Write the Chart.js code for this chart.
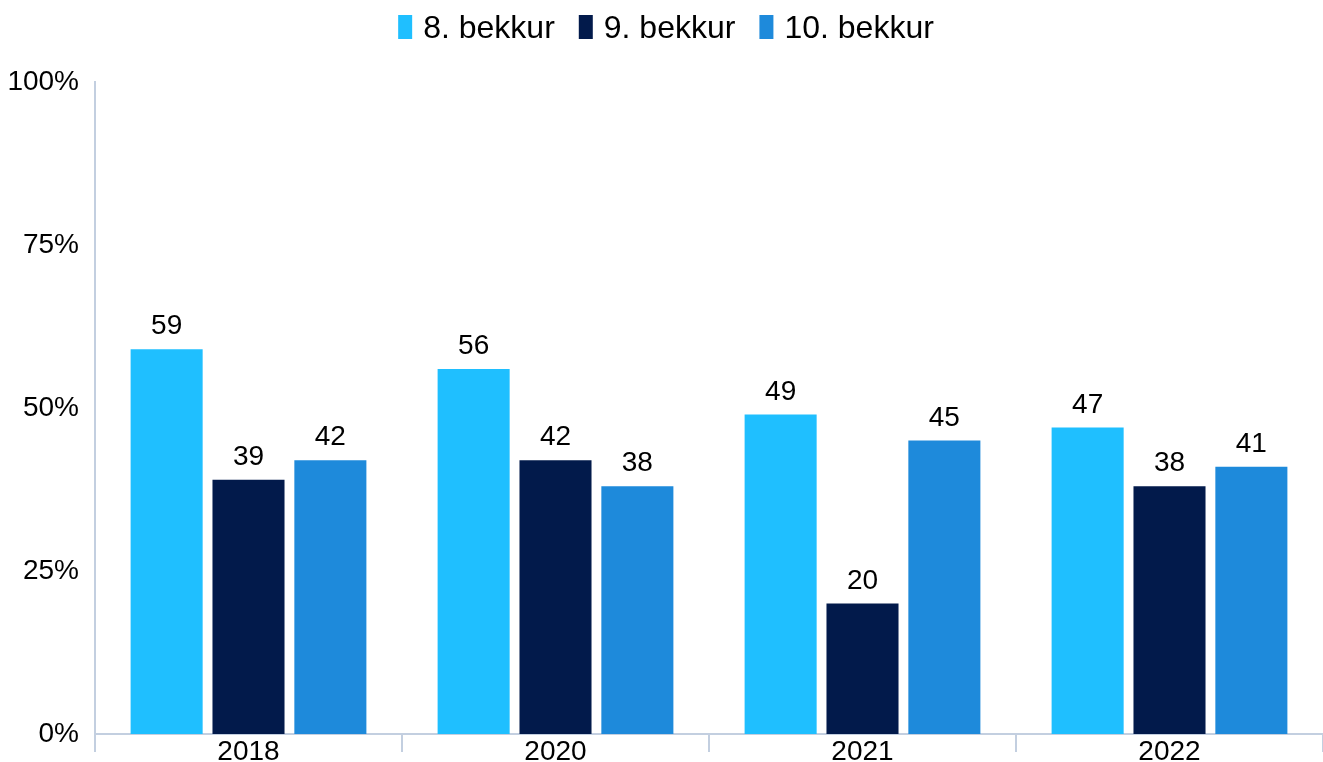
<!DOCTYPE html>
<html>
<head>
<meta charset="utf-8">
<script src="https://cdn.jsdelivr.net/npm/chart.js@4/dist/chart.umd.min.js"></script>
<style>
  body { margin: 0; background: #fff; }
  canvas { display: block; }
</style>
</head>
<body>
<canvas id="chart" width="1323" height="762"></canvas>
<script>
const years = ["2018", "2020", "2021", "2022"]
const grade8 = [59, 56, 49, 47]
const grade9 = [39, 42, 20, 38]
const grade10 = [42, 38, 45, 41]
const seriesNames = ["8. bekkur", "9. bekkur", "10. bekkur"]
const yTicks = [0, 25, 50, 75, 100]

const fontFamily = "'Liberation Sans', Arial, sans-serif"
const axisColor = "#C3CFE0"

// values above the bars
const barLabels = {
    id: "barLabels",
    afterDatasetsDraw(chart) {
        const ctx = chart.ctx
        ctx.save()
        ctx.font = "28px " + fontFamily
        ctx.fillStyle = "#000"
        ctx.textAlign = "center"
        ctx.textBaseline = "alphabetic"
        chart.data.datasets.forEach((ds, i) => {
            chart.getDatasetMeta(i).data.forEach((bar, j) => {
                ctx.fillText(ds.data[j], bar.x, bar.y - 15)
            })
        })
        ctx.restore()
    }
}

// legend with narrow boxes, drawn by hand for tighter spacing
const topLegend = {
    id: "topLegend",
    afterDraw(chart) {
        const ctx = chart.ctx
        ctx.save()
        ctx.font = "32px " + fontFamily
        const items = chart.data.datasets.map(ds => ({
            text: ds.label,
            color: ds.backgroundColor,
            w: 25 + ctx.measureText(ds.label).width,
        }))
        const gap = 24
        const total = items.reduce((s, it) => s + it.w, 0) + gap * (items.length - 1)
        let x = 666 - total / 2
        items.forEach(it => {
            ctx.fillStyle = it.color
            ctx.fillRect(x, 15, 14, 24)
            ctx.fillStyle = "#000"
            ctx.textAlign = "left"
            ctx.textBaseline = "alphabetic"
            ctx.fillText(it.text, x + 25, 38)
            x += it.w + gap
        })
        ctx.restore()
    }
}

new Chart(document.getElementById("chart"), {
    type: "bar",
    data: {
        labels: years,
        datasets: [
            { label: seriesNames[0], data: grade8, backgroundColor: "#1FBFFF" },
            { label: seriesNames[1], data: grade9, backgroundColor: "#021A4B" },
            { label: seriesNames[2], data: grade10, backgroundColor: "#1E8ADB" },
        ],
    },
    options: {
        responsive: false,
        devicePixelRatio: 1,
        animation: false,
        layout: { padding: { top: 82, left: 0, right: 0, bottom: 0 } },
        datasets: {
            bar: { categoryPercentage: 0.8, barPercentage: 0.88 }
        },
        plugins: {
            legend: { display: false },
            tooltip: { enabled: false },
        },
        scales: {
            x: {
                grid: {
                    display: true,
                    offset: true,
                    drawOnChartArea: false,
                    drawTicks: true,
                    tickLength: 18,
                    color: axisColor,
                    lineWidth: 2,
                },
                border: { display: true, color: axisColor, width: 2 },
                ticks: {
                    color: "#000",
                    padding: -17,
                    font: { family: fontFamily, size: 28 },
                },
                afterFit(scale) { scale.height = 28 },
            },
            y: {
                min: 0,
                max: 100,
                afterBuildTicks(scale) {
                    scale.ticks = yTicks.map(v => ({ value: v }))
                },
                grid: { display: false, drawTicks: false },
                border: { display: true, color: axisColor, width: 2 },
                ticks: {
                    color: "#000",
                    padding: 16,
                    font: { family: fontFamily, size: 28 },
                    callback: v => v + "%",
                },
                afterFit(scale) {
                    scale.width = 95
                    scale.paddingTop = 0
                    scale.paddingBottom = 0
                },
            },
        },
    },
    plugins: [barLabels, topLegend],
})
</script>
</body>
</html>
